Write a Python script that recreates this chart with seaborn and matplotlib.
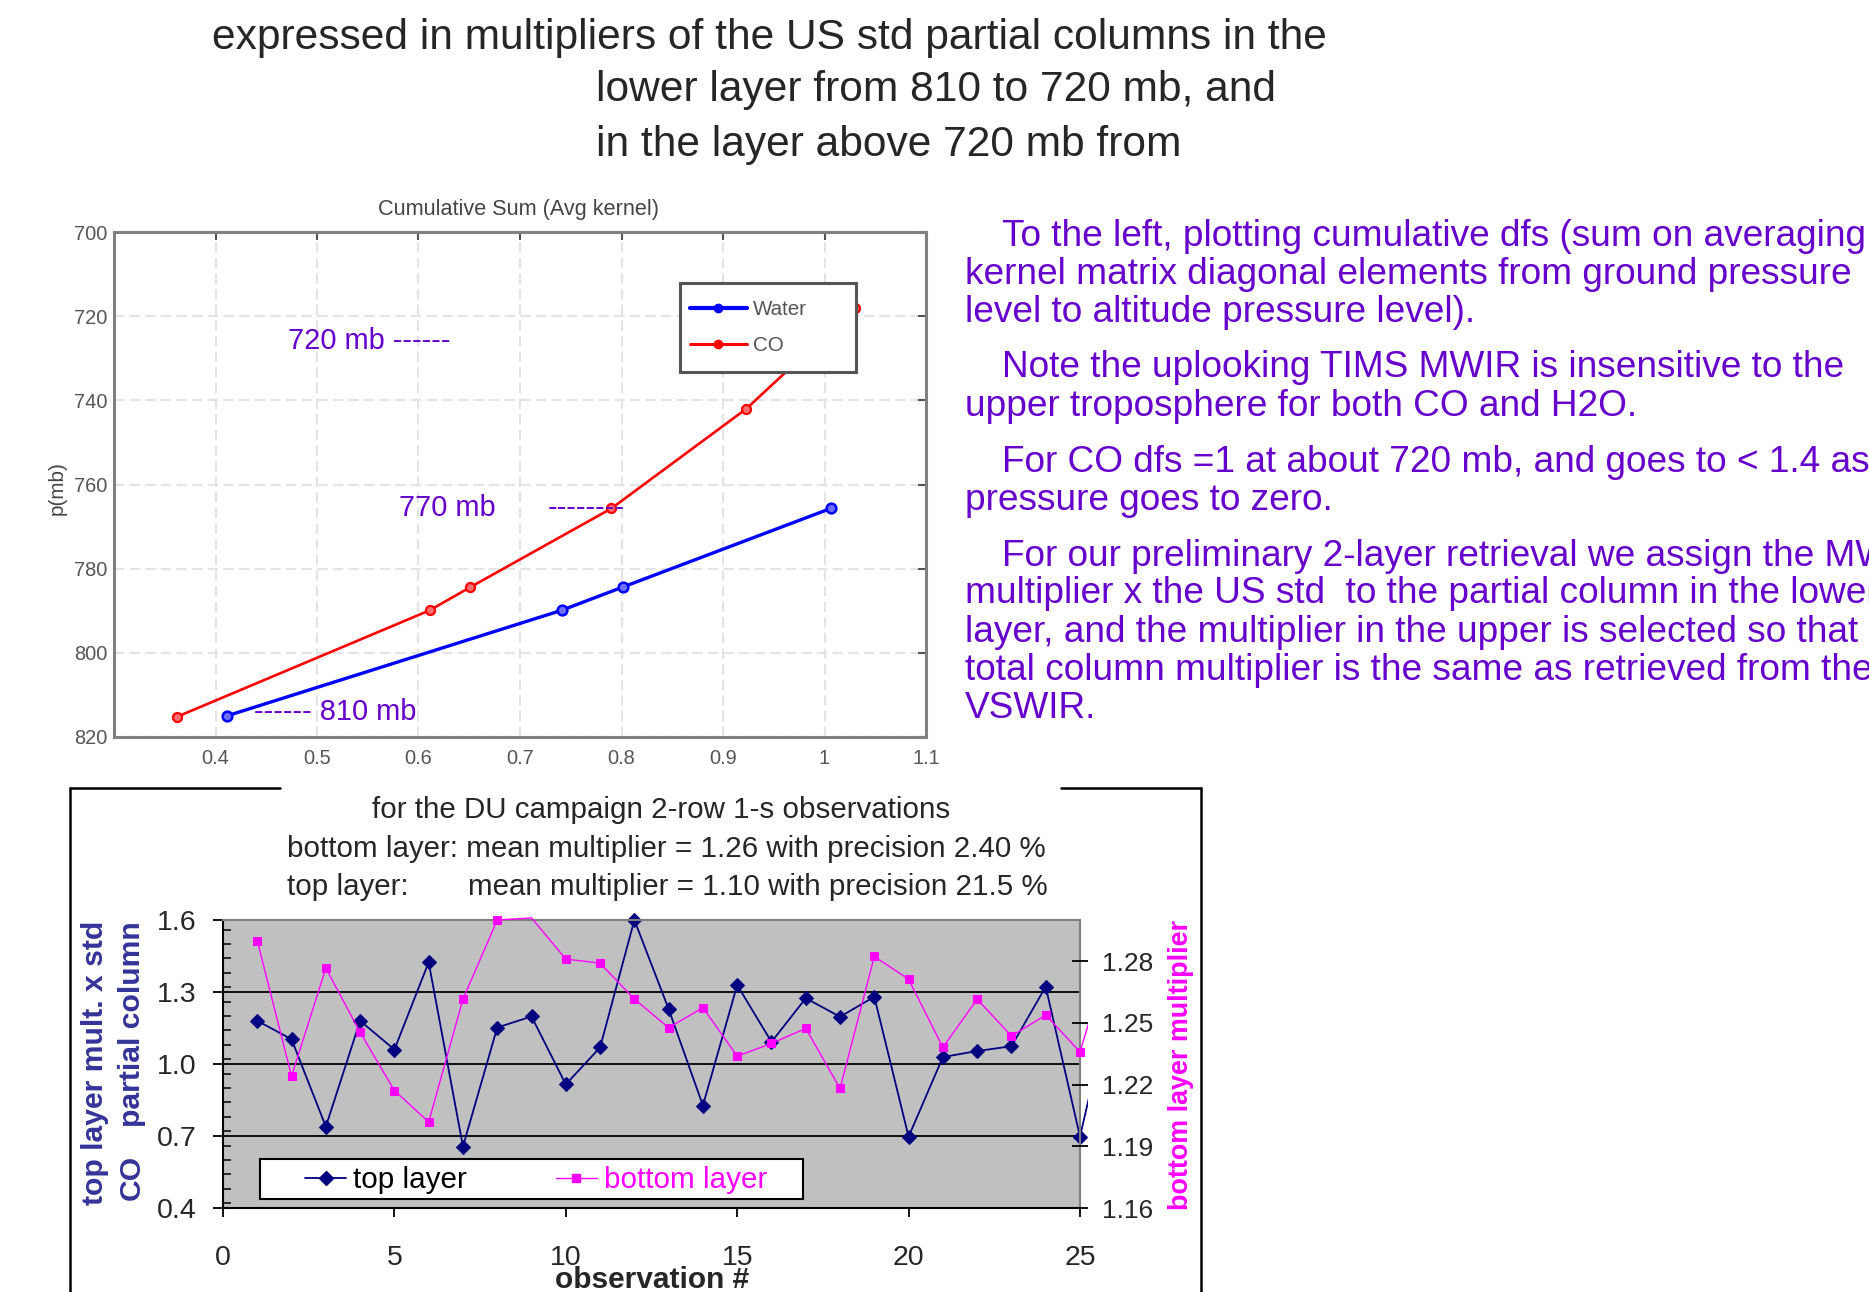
import numpy as np
import pandas as pd
import matplotlib
matplotlib.use("Agg")
import matplotlib.pyplot as plt
from matplotlib.lines import Line2D
from matplotlib.patches import Rectangle
from matplotlib.transforms import Bbox, TransformedBbox
from matplotlib.ticker import FixedLocator, MultipleLocator, FormatStrFormatter
import seaborn as sns

# ---------------- data ----------------
# cumulative degrees of freedom (sum of averaging-kernel diagonal) vs pressure
water_dfs = [0.411, 0.741, 0.801, 1.006]
water_p = [815.0, 789.9, 784.4, 765.7]
co_dfs = [0.362, 0.611, 0.651, 0.790, 0.923, 1.030]
co_p = [815.2, 789.9, 784.4, 765.7, 742.0, 718.0]
dfs_ticks = [0.4, 0.5, 0.6, 0.7, 0.8, 0.9, 1.0, 1.1]
dfs_tick_labels = ["0.4", "0.5", "0.6", "0.7", "0.8", "0.9", "1", "1.1"]
p_ticks = [700, 720, 740, 760, 780, 800, 820]

# two-layer retrieval, DU campaign observations
obs = list(range(1, 27))
top_layer = [1.180, 1.103, 0.739, 1.180, 1.060, 1.424, 0.656, 1.152, 1.198,
             0.915, 1.069, 1.600, 1.229, 0.827, 1.329, 1.092, 1.274, 1.197,
             1.280, 0.697, 1.029, 1.054, 1.074, 1.322, 0.697, 1.320]
bottom_layer = [1.2899, 1.2241, 1.2766, 1.2454, 1.2171, 1.2018, 1.2615, 1.3000,
                1.3010, 1.2810, 1.2790, 1.2616, 1.2476, 1.2574, 1.2338, 1.2400,
                1.2473, 1.2181, 1.2823, 1.2712, 1.2381, 1.2615, 1.2436, 1.2538,
                1.2359, 1.2910]
obs_ticks = [0, 5, 10, 15, 20, 25]
top_ticks = [0.4, 0.7, 1.0, 1.3, 1.6]
bottom_ticks = [1.16, 1.19, 1.22, 1.25, 1.28]

header_lines = [
    "expressed in multipliers of the US std partial columns in the",
    "lower layer from 810 to 720 mb, and",
    "in the layer above 720 mb from",
]
notes = [
    ["To the left, plotting cumulative dfs (sum on averaging",
     "kernel matrix diagonal elements from ground pressure",
     "level to altitude pressure level)."],
    ["Note the uplooking TIMS MWIR is insensitive to the",
     "upper troposphere for both CO and H2O."],
    ["For CO dfs =1 at about 720 mb, and goes to < 1.4 as",
     "pressure goes to zero."],
    ["For our preliminary 2-layer retrieval we assign the MWIR",
     "multiplier x the US std  to the partial column in the lower",
     "layer, and the multiplier in the upper is selected so that the",
     "total column multiplier is the same as retrieved from the",
     "VSWIR."],
]
stats_lines = [
    "for the DU campaign 2-row 1-s observations",
    "bottom layer: mean multiplier = 1.26 with precision 2.40 %",
]
stats_top_head = "top layer:"
stats_top_tail = "mean multiplier = 1.10 with precision 21.5 %"

# ---------------- figure ----------------
sns.set_style("white")
plt.rcParams["font.family"] = ["Liberation Sans", "DejaVu Sans"]

W, H = 1869, 1292
fig = plt.figure(figsize=(W / 100, H / 100), dpi=100, facecolor="white")
renderer = fig.canvas.get_renderer()

PURPLE = "#6600CC"
NAVY = "#000080"
MAGENTA = "#FF00FF"


def fx(x):
    return x / W


def fy(y):
    return 1 - y / H


def box(x0, y0, x1, y1):
    return [fx(x0), fy(y1), (x1 - x0) / W, (y1 - y0) / H]


def fit(text, width_px, **kw):
    t = fig.text(0, 0, text, fontsize=50, **kw)
    w = t.get_window_extent(renderer=renderer).width
    t.remove()
    return 50 * width_px / w


# ---------------- header text ----------------
fs_head = fit(header_lines[0], 1116)
fig.text(fx(212), fy(49), header_lines[0], fontsize=fs_head, va="baseline")
fig.text(fx(596), fy(101), header_lines[1], fontsize=fs_head, va="baseline")
fig.text(fx(596), fy(156), header_lines[2], fontsize=fs_head, va="baseline")

# ---------------- notes on the right ----------------
fs_note = fit(notes[0][1], 888)
base = 245.5
for para in notes:
    for i, line in enumerate(para):
        x = 1001.6 if i == 0 else 964.7
        fig.text(fx(x), fy(base), line, fontsize=fs_note, color=PURPLE, va="baseline")
        base += 38
    base += 18

# ---------------- cumulative DFS panel ----------------
ax1 = fig.add_axes(box(114, 232, 926, 737))
df_w = pd.DataFrame({"dfs": water_dfs, "p": water_p})
df_c = pd.DataFrame({"dfs": co_dfs, "p": co_p})
sns.lineplot(data=df_w, x="dfs", y="p", sort=False, estimator=None, ax=ax1,
             color="#0000FF", linewidth=2.4, marker="o", markersize=7,
             markeredgecolor="#0000FF", markerfacecolor="#6f6fff",
             markeredgewidth=1.8, legend=False)
sns.lineplot(data=df_c, x="dfs", y="p", sort=False, estimator=None, ax=ax1,
             color="#FF0000", linewidth=1.9, marker="o", markersize=6.5,
             markeredgecolor="#FF0000", markerfacecolor="#ff7070",
             markeredgewidth=1.6, legend=False)
ax1.set_xlim(0.3, 1.1)
ax1.set_ylim(820, 700)
ax1.set_xticks(dfs_ticks)
ax1.set_xticklabels(dfs_tick_labels)
ax1.set_yticks(p_ticks)
ax1.set_xlabel("")
ax1.set_ylabel("")
ax1.grid(True, color="#e4e4e4", linestyle=(0, (5, 2.5)), linewidth=1.5)
ax1.set_axisbelow(True)
ax1.tick_params(direction="in", top=True, right=True, length=6, width=1.5,
                color="#555555", labelcolor="#555555", labelsize=14.4, pad=5)
ax1.tick_params(axis="x", pad=9)
for s in ax1.spines.values():
    s.set_color("#808080")
    s.set_linewidth(2.2)

fs_small = fit("Cumulative Sum (Avg kernel)", 282)
fig.text(fx(519), fy(210), "Cumulative Sum (Avg kernel)", fontsize=fs_small,
         color="#444444", ha="center", va="center")
fig.text(fx(57), fy(488), "p(mb)", fontsize=fs_small * 0.95, color="#444444",
         rotation=90, ha="center", va="center")

fs_ann = fit("810 mb", 97)
ax1.text(0.471, 725.8, "720 mb ------", fontsize=fs_ann, color=PURPLE, va="center")
ax1.text(0.581, 765.7, "770 mb", fontsize=fs_ann, color=PURPLE, va="center")
ax1.text(0.727, 765.7, "--------", fontsize=fs_ann, color=PURPLE, va="center")
ax1.text(0.438, 814.0, "------ 810 mb", fontsize=fs_ann, color=PURPLE, va="center")

fig.add_artist(Rectangle((fx(680), fy(372)), 176 / W, 89 / H, transform=fig.transFigure,
                         facecolor="white", edgecolor="#555555", linewidth=2.2, zorder=5))
h_top = [Line2D([], [], color="#0000FF", lw=3, marker="o", ms=6),
         Line2D([], [], color="#FF0000", lw=2.2, marker="o", ms=6)]
leg1 = fig.legend(handles=h_top, labels=["Water", "CO"], loc="center left",
                  bbox_to_anchor=(fx(690), fy(327.5)), frameon=False,
                  fontsize=14.8, handlelength=2.75, handletextpad=0.32,
                  labelspacing=0.85, borderpad=0, borderaxespad=0,
                  labelcolor="#555555")
leg1.set_zorder(6)

# ---------------- two-layer multiplier panel ----------------
# outer chart frame, open behind the statistics text
frame_kw = dict(transform=fig.transFigure, color="black", lw=1.8, zorder=1)
fig.add_artist(Line2D([fx(70), fx(70)], [fy(788), 0], **frame_kw))
fig.add_artist(Line2D([fx(1201), fx(1201)], [fy(788), 0], **frame_kw))
fig.add_artist(Line2D([fx(70), fx(280)], [fy(788), fy(788)], **frame_kw))
fig.add_artist(Line2D([fx(1061), fx(1201)], [fy(788), fy(788)], **frame_kw))

fs_stat = fit(stats_lines[1], 759)
fig.text(fx(371.6), fy(818.3), stats_lines[0], fontsize=fs_stat, va="baseline")
fig.text(fx(287), fy(856.7), stats_lines[1], fontsize=fs_stat, va="baseline")
fig.text(fx(287), fy(895), stats_top_head, fontsize=fs_stat, va="baseline")
fig.text(fx(468), fy(895), stats_top_tail, fontsize=fs_stat, va="baseline")

ax2 = fig.add_axes(box(223, 920, 1080, 1208))
ax2.set_facecolor("#C0C0C0")
df = pd.DataFrame({"obs": obs, "top": top_layer, "bottom": bottom_layer})
top_marks = [(o <= 25) for o in obs]
bot_marks = [(o <= 25) and (v <= 1.30) for o, v in zip(obs, bottom_layer)]
sns.lineplot(data=df, x="obs", y="top", sort=False, estimator=None, ax=ax2,
             color=NAVY, linewidth=1.3, marker="D", markersize=7.3,
             markeredgecolor=NAVY, markevery=top_marks, legend=False)
ax3 = ax2.twinx()
sns.lineplot(data=df, x="obs", y="bottom", sort=False, estimator=None, ax=ax3,
             color=MAGENTA, linewidth=1.0, marker="s", markersize=5.6,
             markeredgecolor=MAGENTA, markevery=bot_marks, legend=False)

ax2.set_xlim(0, 25)
ax2.set_ylim(0.4, 1.6)
ax3.set_ylim(1.16, 1.30)
ax2.set_xlabel("")
ax2.set_ylabel("")
ax3.set_ylabel("")
ax2.xaxis.set_major_locator(FixedLocator(obs_ticks))
ax2.yaxis.set_major_locator(FixedLocator(top_ticks))
ax2.yaxis.set_minor_locator(MultipleLocator(0.06))
ax2.yaxis.set_major_formatter(FormatStrFormatter("%.1f"))
ax3.yaxis.set_major_locator(FixedLocator(bottom_ticks))
ax3.yaxis.set_major_formatter(FormatStrFormatter("%.2f"))
ax2.grid(False)
ax3.grid(False)
ax2.yaxis.grid(True, which="major", color="black", linewidth=1.3)
ax2.set_axisbelow(True)

ax2.tick_params(axis="x", which="major", direction="out", length=6.5, width=1.3,
                color="black", labelsize=20.5, pad=20, bottom=True)
ax2.tick_params(axis="y", which="major", direction="out", length=7.2, width=1.3,
                color="black", labelsize=20.5, pad=11.7, left=True)
ax2.tick_params(axis="y", which="minor", direction="in", length=6, width=1.1,
                color="black", left=True)
ax3.tick_params(axis="y", which="major", direction="inout", length=12, width=1.3,
                color="black", labelsize=19, pad=9.6, right=True)
for name, s in ax2.spines.items():
    s.set_linewidth(1.5)
    s.set_color("black" if name in ("left", "bottom") else "#808080")
for s in ax3.spines.values():
    s.set_visible(False)

# lines run slightly past the plotting area, markers are not cut at its edges
clip = TransformedBbox(Bbox.from_extents(fx(211), fy(1220), fx(1088), fy(908)),
                       fig.transFigure)
for ln in ax2.lines + ax3.lines:
    ln.set_clip_path(None)
    ln.set_clip_box(clip)

fs_ylab = fit("top layer mult. x std", 285, fontweight="bold")
fig.text(fx(95), fy(1205), "top layer mult. x std", fontsize=fs_ylab,
         fontweight="bold", color="#333399", rotation=90, ha="center", va="bottom")
fig.text(fx(131.7), fy(1200), "CO", fontsize=fs_ylab, fontweight="bold",
         color="#333399", rotation=90, ha="center", va="bottom")
fig.text(fx(131.7), fy(921), "partial column", fontsize=fs_ylab, fontweight="bold",
         color="#333399", rotation=90, ha="center", va="top")
fs_rlab = fit("bottom layer multiplier", 290, fontweight="bold")
fig.text(fx(1181), fy(1065), "bottom layer multiplier", fontsize=fs_rlab,
         fontweight="bold", color=MAGENTA, rotation=90, ha="center", va="center")
fs_xlab = fit("observation #", 194, fontweight="bold")
fig.text(fx(652), fy(1280), "observation #", fontsize=fs_xlab, fontweight="bold",
         ha="center", va="center")

fig.add_artist(Rectangle((fx(260), fy(1199)), 543 / W, 40 / H, transform=fig.transFigure,
                         facecolor="white", edgecolor="black", linewidth=1.5, zorder=5))
h_bot = [Line2D([], [], color=NAVY, lw=1.3, marker="D", ms=7.3),
         Line2D([], [], color=MAGENTA, lw=1.0, marker="s", ms=5.6)]
leg2 = fig.legend(handles=h_bot, labels=["top layer", "bottom layer"], ncol=2,
                  loc="center left", bbox_to_anchor=(fx(305), fy(1180)),
                  frameon=False, fontsize=21.3, handlelength=1.39,
                  handletextpad=0.24, columnspacing=3.0, borderpad=0,
                  borderaxespad=0, labelcolor=["black", MAGENTA])
leg2.set_zorder(6)

fig.savefig("out.png", dpi=100, facecolor="white")
